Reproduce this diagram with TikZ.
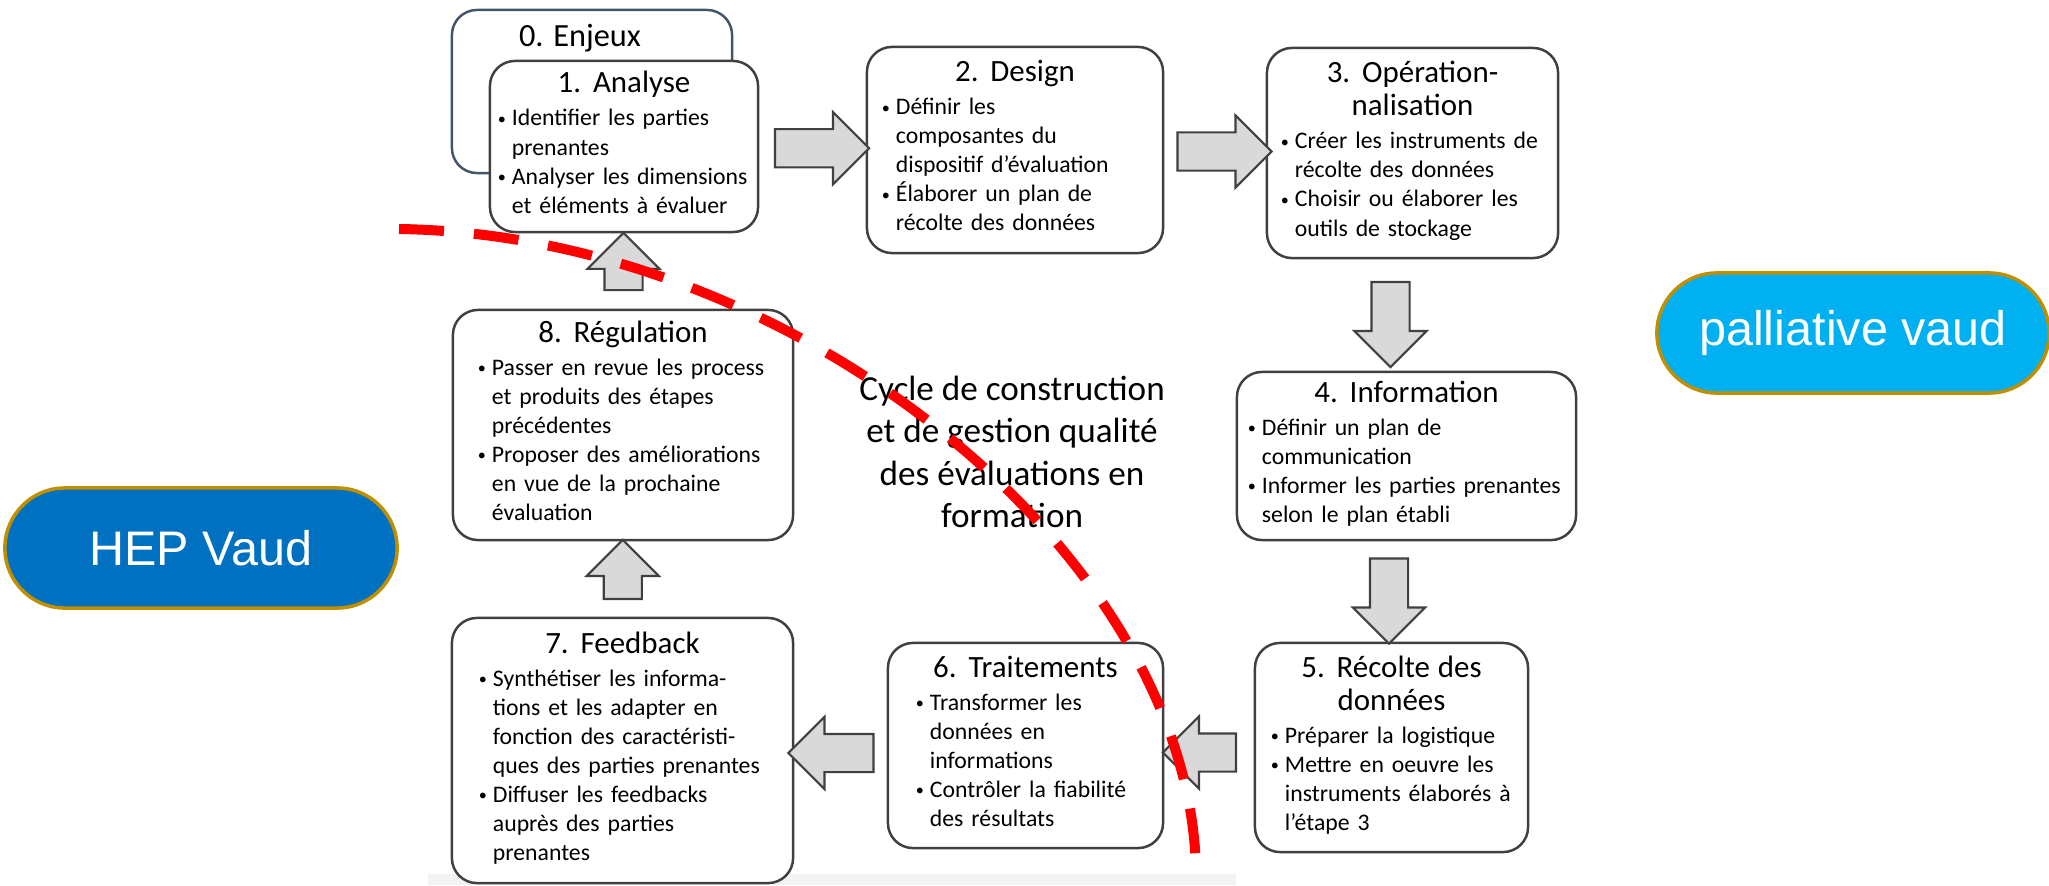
\documentclass[tikz,border=0pt]{standalone}
\usepackage{fontspec}
\setmainfont{Carlito}
\newfontfamily\helv{Liberation Sans}
\usetikzlibrary{calc,positioning,shapes.arrows}

\definecolor{hepbleu}{HTML}{0070C0}
\definecolor{palbleu}{HTML}{00B0F0}
\definecolor{orbord}{HTML}{BF8F00}
\definecolor{grisfl}{HTML}{D9D9D9}
\definecolor{trait}{HTML}{404040}
\definecolor{ardoise}{HTML}{44546A}
\definecolor{fond}{HTML}{F3F3F3}

\newcommand{\titre}[1]{{\centering\fontsize{8.8}{9.4}\selectfont #1\par}\vskip1.2pt}
\newcommand{\puce}[1]{\par\noindent
  \makebox[0.14cm][l]{\raisebox{0.45pt}{\fontsize{4.6}{4.6}\selectfont\textbullet}}%
  \parbox[t]{\dimexpr\linewidth-0.14cm\relax}{\raggedright #1\strut}\par\prevdepth=\dp\strutbox}

\begin{document}
\begin{tikzpicture}[x=0.01cm,y=-0.01cm,
  etape/.style={draw=trait,fill=white,line width=0.7pt,rounded corners=0.25cm,align=left,
    font=\fontsize{6.75}{8.25}\selectfont,inner ysep=0pt},
  fleche/.style={single arrow,draw=trait,fill=grisfl,line width=0.6pt,inner sep=0.18cm,
    minimum width=0.7cm,single arrow head extend=0.17cm},
  pilule/.style={draw=orbord,line width=1pt,rounded corners=0.6cm,minimum width=3.92cm,
    minimum height=1.2cm,text=white,font=\helv\fontsize{13.8}{16}\selectfont},
  pointille/.style={red,line width=0.1cm,dash pattern=on 0.45cm off 0.3cm}]
  \useasboundingbox (0,0) rectangle (2049,885);
  \fill[fond] (428,874) rectangle (1236,885);

  % etape 0 derriere l'analyse
  \node[draw=ardoise,line width=0.7pt,rounded corners=0.25cm,minimum width=2.8cm,minimum height=1.63cm] (e0) at (592,91.5) {};
  \node[anchor=north,font=\fontsize{9.2}{11}\selectfont] (t0) at ([xshift=-0.12cm,yshift=-0.03cm]e0.north) {0. Enjeux};

  \node[etape,minimum width=2.68cm,minimum height=1.71cm,text width=2.52cm,inner xsep=0.08cm] (e1) at (624,146.5)
    {\titre{1. Analyse}\puce{Identifier les parties\\prenantes}\puce{Analyser les dimensions\\et éléments à évaluer}};
  \node[etape,minimum width=2.96cm,minimum height=2.06cm,text width=2.66cm,inner xsep=0.15cm] (e2) at (1015,150)
    {\titre{2. Design}\puce{Définir les\\composantes du\\dispositif d’évaluation}\puce{Élaborer un plan de\\récolte des données}};
  \node[etape,minimum width=2.91cm,minimum height=2.1cm,text width=2.63cm,inner xsep=0.14cm] (e3) at (1412.5,153)
    {\titre{3. Opération-\\nalisation}\puce{Créer les instruments de\\récolte des données}\puce{Choisir ou élaborer les\\outils de stockage}};
  \node[etape,minimum width=3.39cm,minimum height=1.68cm,text width=3.17cm,inner xsep=0.11cm] (e4) at (1406.5,456)
    {\titre{4. Information}\puce{Définir un plan de\\communication}\puce{Informer les parties prenantes\\selon le plan établi}};
  \node[etape,minimum width=2.73cm,minimum height=2.09cm,text width=2.41cm,inner xsep=0.16cm] (e5) at (1391.5,747.5)
    {\titre{5. Récolte des\\données}\puce{Préparer la logistique}\puce{Mettre en oeuvre les\\instruments élaborés à\\l’étape 3}};
  \node[etape,minimum width=2.75cm,minimum height=2.05cm,text width=2.19cm,inner xsep=0.28cm] (e6) at (1025.5,745.5)
    {\titre{6. Traitements}\puce{Transformer les\\données en\\informations}\puce{Contrôler la fiabilité\\des résultats}};
  \node[etape,minimum width=3.41cm,minimum height=2.65cm,text width=2.87cm,inner xsep=0.27cm] (e7) at (622.5,750.5)
    {\titre{7. Feedback}\puce{Synthétiser les informa-\\tions et les adapter en\\fonction des caractéristi-\\ques des parties prenantes}\puce{Diffuser les feedbacks\\auprès des parties\\prenantes}};
  \node[etape,minimum width=3.4cm,minimum height=2.3cm,text width=2.9cm,inner xsep=0.25cm] (e8) at (623,425)
    {\titre{8. Régulation}\puce{Passer en revue les process\\et produits des étapes\\précédentes}\puce{Proposer des améliorations\\en vue de la prochaine\\évaluation}};

  % fleches du cycle
  \node[fleche,minimum height=0.94cm] (f12) at ($(e1.east)!.5!(e2.west)$) {};
  \node[fleche,minimum height=0.94cm] (f23) at ($(e2.east)!.5!(e3.west)$) {};
  \node[fleche,minimum height=0.85cm,rotate=-90] (f34) at ([xshift=-0.19cm]$(e3.south)!.5!(e4.north)$) {};
  \node[fleche,minimum height=0.85cm,rotate=-90] (f45) at ([xshift=-0.1cm]$(e4.south)!.5!(e5.north)$) {};
  \node[fleche,minimum height=0.73cm,rotate=180] (f56) at ([yshift=-0.06cm]$(e5.west)!.5!(e6.east)$) {};
  \node[fleche,minimum height=0.85cm,rotate=180] (f67) at ([yshift=-0.05cm]$(e6.west)!.5!(e7.east)$) {};
  \node[fleche,minimum height=0.59cm,rotate=90] (f78) at ($(e7.north)!.5!(e8.south)$) {};
  \node[fleche,minimum height=0.56cm,rotate=90] (f81) at ($(e8.north)!.5!(e1.south)$) {};

  \node[align=center,font=\fontsize{10}{12}\selectfont] (cycle) at (1012,452)
    {Cycle de construction\\et de gestion qualité\\des évaluations en\\formation};

  \node[pilule,fill=hepbleu] (hep) at (201,548) {HEP Vaud};
  \node[pilule,fill=palbleu] (pal) at (1853,333) {palliative vaud};

  \draw[pointille] (399,229) .. controls (800,235) and (1195,560) .. (1196,876);
\end{tikzpicture}
\end{document}
